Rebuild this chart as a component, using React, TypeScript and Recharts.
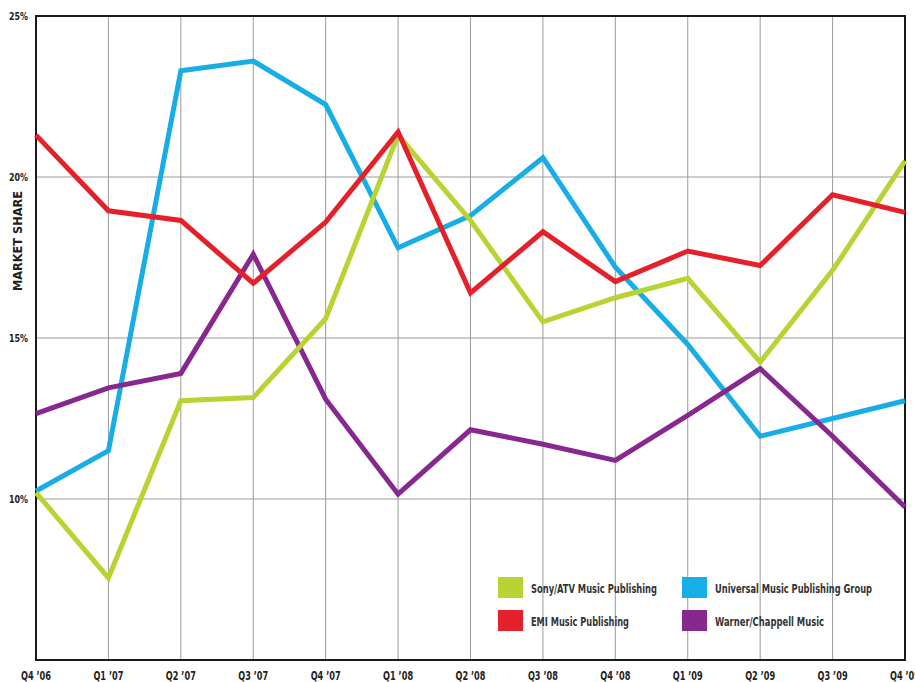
import { LineChart, Line, XAxis, YAxis, CartesianGrid, Legend, ReferenceArea } from 'recharts'

const quarters = ["Q4 ’06", "Q1 ’07", "Q2 ’07", "Q3 ’07", "Q4 ’07", "Q1 ’08", "Q2 ’08", "Q3 ’08", "Q4 ’08", "Q1 ’09", "Q2 ’09", "Q3 ’09", "Q4 ’09"]
const sonyAtv = [10.2, 7.55, 13.05, 13.15, 15.6, 21.3, 18.65, 15.5, 16.25, 16.85, 14.25, 17.1, 20.5]
const emi = [21.3, 18.95, 18.65, 16.7, 18.6, 21.4, 16.4, 18.3, 16.75, 17.7, 17.25, 19.45, 18.9]
const universal = [10.25, 11.5, 23.3, 23.6, 22.25, 17.8, 18.8, 20.6, 17.2, 14.8, 11.95, 12.5, 13.05]
const warner = [12.65, 13.45, 13.9, 17.6, 13.1, 10.15, 12.15, 11.7, 11.2, 12.6, 14.05, 11.95, 9.75]
const yTicks = [10, 15, 20, 25]

const data = quarters.map((q, i) => ({
  quarter: q,
  sony: sonyAtv[i],
  emi: emi[i],
  universal: universal[i],
  warner: warner[i],
}))

const series = [
  { key: 'universal', name: 'Universal Music Publishing Group', color: '#17ade6', textLen: 157 },
  { key: 'warner', name: 'Warner/Chappell Music', color: '#87288e', textLen: 109 },
  { key: 'sony', name: 'Sony/ATV Music Publishing', color: '#b7d433', textLen: 126 },
  { key: 'emi', name: 'EMI Music Publishing', color: '#e4212a', textLen: 98 },
]

// legend grid: column, row
const legendSlots: Record<string, [number, number]> = {
  sony: [0, 0],
  emi: [0, 1],
  universal: [1, 0],
  warner: [1, 1],
}

const font = "'DejaVu Sans Condensed', 'DejaVu Sans', sans-serif"

const YTick = ({ y, payload }: any) => (
  <text x={28} y={y + 4} textAnchor="end" fontSize={11} fontWeight="bold" fontFamily={font} fill="#222"
    textLength={19} lengthAdjust="spacingAndGlyphs">
    {payload.value}%
  </text>
)

const XTick = ({ x, payload }: any) => (
  <text x={x} y={680} textAnchor="middle" fontSize={12} fontWeight="bold" fontFamily={font} fill="#222"
    textLength={30} lengthAdjust="spacingAndGlyphs">
    {payload.value}
  </text>
)

const LegendBox = () => (
  <svg width={380} height={60}>
    {series.map((s) => {
      const [col, row] = legendSlots[s.key]
      const x = col * 184
      const y = row * 33
      return (
        <g key={s.key}>
          <rect x={x} y={y + 2} width={25} height={21} fill={s.color} />
          <text x={x + 33} y={y + 18} fontSize={13} fontWeight="bold" fontFamily={font} fill="#333"
            textLength={s.textLen} lengthAdjust="spacingAndGlyphs">
            {s.name}
          </text>
        </g>
      )
    })}
  </svg>
)

export default function App() {
  return (
    <div style={{ position: 'absolute', left: 0, top: 0, background: '#fff' }}>
      <LineChart width={915} height={682} data={data} margin={{ top: 16, right: 10, left: 0, bottom: 0 }}>
        <CartesianGrid stroke="#9a9a9a" strokeWidth={1} horizontalValues={[10, 15, 20]} />
        <XAxis
          dataKey="quarter"
          height={22}
          interval={0}
          axisLine={false}
          tickLine={false}
          tick={<XTick />}
        />
        <YAxis
          type="number"
          domain={[5, 25]}
          ticks={yTicks}
          width={36}
          axisLine={false}
          tickLine={false}
          tick={<YTick />}
          label={{
            content: () => (
              <text x={22} y={241} transform="rotate(-90 22 241)" textAnchor="middle" fontSize={13}
                fontWeight="bold" fontFamily={font} fill="#222" textLength={100} lengthAdjust="spacingAndGlyphs">
                MARKET SHARE
              </text>
            ),
          }}
        />
        <ReferenceArea x1={quarters[0]} x2={quarters[quarters.length - 1]} y1={5} y2={25}
          fill="none" stroke="#1a1a1a" strokeWidth={2} ifOverflow="visible" />
        {series.map((s) => (
          <Line
            key={s.key}
            type="linear"
            dataKey={s.key}
            name={s.name}
            stroke={s.color}
            strokeWidth={5}
            dot={false}
            activeDot={false}
            isAnimationActive={false}
          />
        ))}
        <Legend
          verticalAlign="middle"
          content={<LegendBox />}
          wrapperStyle={{ position: 'absolute', left: 498, top: 575, width: 380, height: 60 }}
        />
      </LineChart>
    </div>
  )
}
